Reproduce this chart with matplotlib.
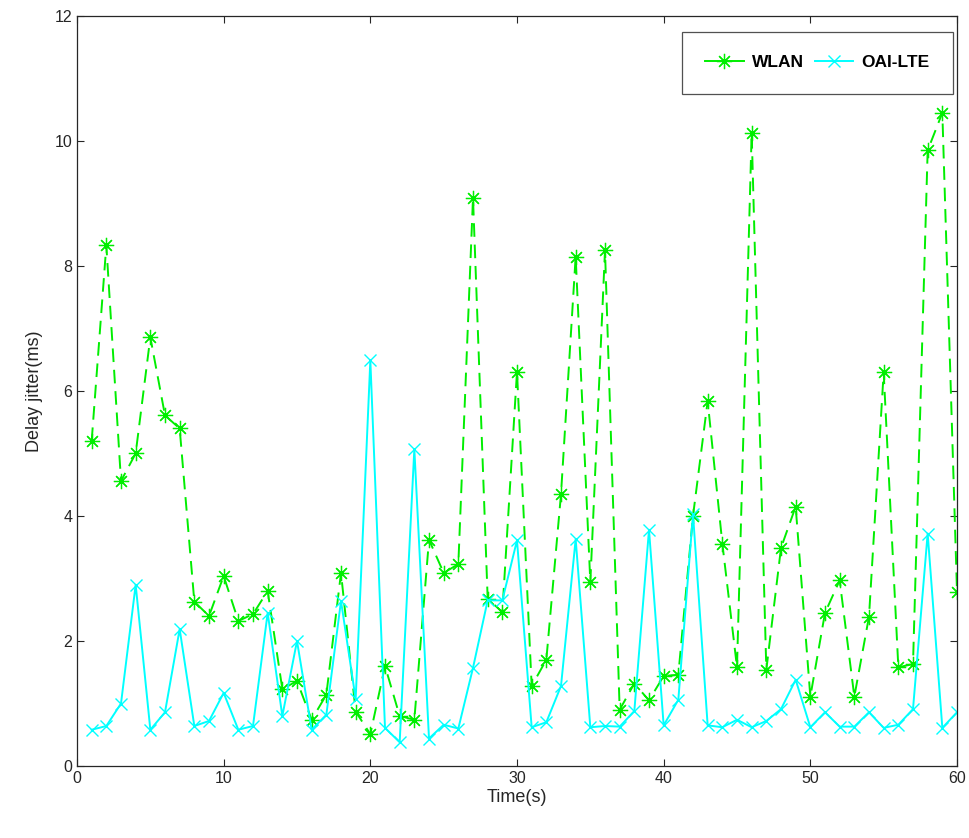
import matplotlib
matplotlib.use("Agg")
import matplotlib.pyplot as plt

plt.rcParams['font.family'] = ['Liberation Sans', 'DejaVu Sans']

# time in seconds, one sample per second
time_s = list(range(1, 61))

# delay jitter (ms)
wlan = [5.20, 8.33, 4.56, 5.00, 6.86, 5.61, 5.40, 2.63, 2.40, 3.04,
        2.32, 2.43, 2.80, 1.23, 1.36, 0.74, 1.14, 3.09, 0.87, 0.51,
        1.60, 0.80, 0.74, 3.62, 3.09, 3.23, 9.09, 2.68, 2.46, 6.31,
        1.28, 1.70, 4.35, 8.15, 2.94, 8.25, 0.90, 1.32, 1.05, 1.44,
        1.46, 4.00, 5.84, 3.56, 1.58, 10.13, 1.54, 3.49, 4.15, 1.11,
        2.45, 2.97, 1.11, 2.39, 6.30, 1.58, 1.63, 9.85, 10.45, 2.79]

oai_lte = [0.58, 0.64, 1.00, 2.90, 0.58, 0.86, 2.19, 0.64, 0.72, 1.17,
           0.58, 0.64, 2.45, 0.80, 2.00, 0.58, 0.82, 2.64, 1.07, 6.49,
           0.61, 0.38, 5.07, 0.44, 0.66, 0.60, 1.57, 2.65, 2.65, 3.61,
           0.62, 0.70, 1.28, 3.63, 0.62, 0.64, 0.63, 0.88, 3.78, 0.65,
           1.06, 4.03, 0.65, 0.62, 0.74, 0.62, 0.72, 0.91, 1.38, 0.62,
           0.86, 0.63, 0.63, 0.86, 0.61, 0.66, 0.91, 3.72, 0.61, 0.86]

fig = plt.figure(figsize=(9.7, 8.38), dpi=100)
ax = fig.add_axes([77 / 970, 1 - 766 / 838, 880 / 970, 750 / 838])

# matlab style asterisk marker (8 arms)
ax.plot(time_s, wlan, color='#00ee00', linestyle='--', linewidth=1.4,
        marker=(8, 2, 0), markersize=11, markeredgewidth=0.9,
        label='WLAN', dashes=(7, 4))
ax.plot(time_s, oai_lte, color='#00ffff', linestyle='-', linewidth=1.4,
        marker='x', markersize=9, markeredgewidth=1.0, label='OAI-LTE')

ax.set_xlim(0, 60)
ax.set_ylim(0, 12)
ax.set_xticks(range(0, 61, 10))
ax.set_yticks(range(0, 13, 2))
ax.tick_params(direction='in', top=True, right=True, labelsize=11.5,
               colors='#262626', labelcolor='#262626', length=5)
for s in ax.spines.values():
    s.set_color('#262626')
    s.set_linewidth(0.9)

ax.set_xlabel('Time(s)', fontsize=13, color='#262626', labelpad=2)
ax.set_ylabel('Delay jitter(ms)', fontsize=13, color='#262626', labelpad=8)

leg = ax.legend(loc='upper right', ncol=2, frameon=True, fancybox=False,
                edgecolor='#262626', prop={'weight': 'bold', 'size': 12.5},
                borderpad=1.35, handlelength=2.2, columnspacing=0.6,
                handletextpad=0.5, borderaxespad=0,
                bbox_to_anchor=(0.9955, 0.979))
leg.get_frame().set_linewidth(0.9)
for h in leg.legend_handles:
    h.set_linestyle('-')

fig.savefig('out.png', dpi=100)
